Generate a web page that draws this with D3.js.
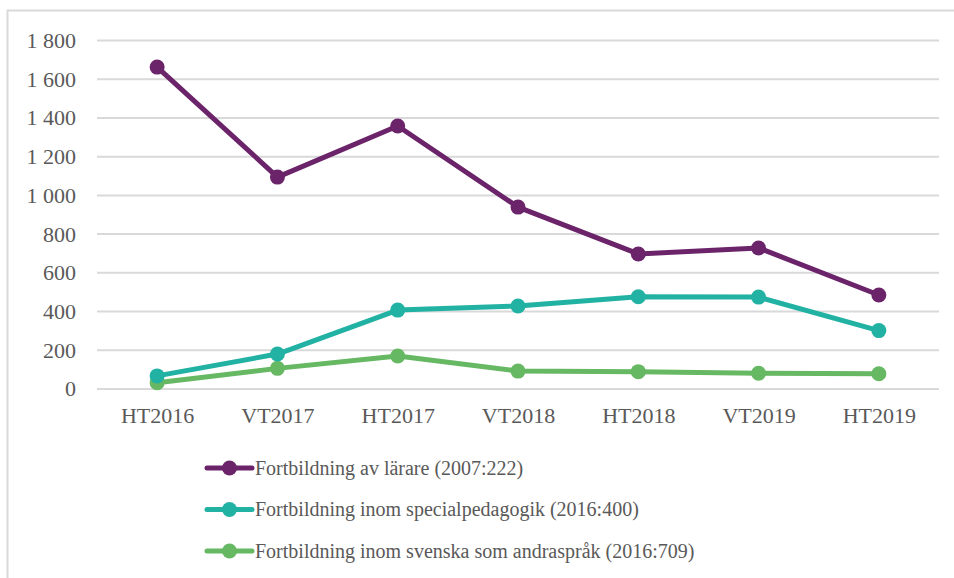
<!DOCTYPE html>
<html>
<head>
<meta charset="utf-8">
<script src="https://cdn.jsdelivr.net/npm/d3@7"></script>
<style>
  body { margin: 0; background: #fff; }
</style>
</head>
<body>
<svg id="chart" width="954" height="578" font-family="Liberation Serif"></svg>
<script>
// terms along the x axis
var terms = ["HT2016", "VT2017", "HT2017", "VT2018", "HT2018", "VT2019", "HT2019"];

// one array per programme
var lararValues = [1660, 1092, 1356, 937, 695, 726, 483];
var specialValues = [65, 178, 405, 426, 474, 472, 299];
var svenskaValues = [30, 104, 168, 90, 87, 79, 76];

var seriesNames = [
  "Fortbildning av lärare (2007:222)",
  "Fortbildning inom specialpedagogik (2016:400)",
  "Fortbildning inom svenska som andraspråk (2016:709)"
];
var seriesColors = ["#6b2369", "#22b2a3", "#66b863"];
var yTicks = [0, 200, 400, 600, 800, 1000, 1200, 1400, 1600, 1800];

var FONT = "Liberation Serif";
var TEXT_COLOR = "#595959";

var series = [lararValues, specialValues, svenskaValues].map(function(vals, i) {
  return { name: seriesNames[i], color: seriesColors[i], values: vals };
});

var svg = d3.select("#chart");

// light frame round the chart, runs off the right edge like the original
svg.append("rect")
    .attr("x", 7.5).attr("y", 10.5)
    .attr("width", 960).attr("height", 600)
    .attr("fill", "none")
    .attr("stroke", "#d9d9d9")
    .attr("stroke-width", 2);

var plot = { left: 97, right: 939, top: 40, bottom: 388.5 };

var x = d3.scalePoint()
    .domain(terms)
    .range([plot.left, plot.right])
    .padding(0.5);

var y = d3.scaleLinear()
    .domain([0, 1800])
    .range([plot.bottom, plot.top]);

var fmt = d3.formatLocale({ decimal: ",", thousands: " ", grouping: [3], currency: ["", " kr"] }).format(",d");

// gridlines + y labels
var yAxis = d3.axisLeft(y)
    .tickValues(yTicks)
    .tickSize(-(plot.right - plot.left))
    .tickPadding(21)
    .tickFormat(fmt);

var gy = svg.append("g")
    .attr("transform", "translate(" + plot.left + ",0)")
    .call(yAxis);
gy.select(".domain").remove();
gy.selectAll(".tick line").attr("stroke", "#d9d9d9").attr("stroke-width", 2);
gy.selectAll(".tick text")
    .attr("dy", "0.34em");

// category labels
var gx = svg.append("g")
    .attr("transform", "translate(0," + plot.bottom + ")")
    .call(d3.axisBottom(x).tickSize(0).tickPadding(19));
gx.select(".domain").remove();
gx.selectAll(".tick text")
    .attr("dy", "0.71em");

// axis groups come with font-family="sans-serif"; swap it
gy.attr("font-family", FONT).attr("font-size", 22);
gx.attr("font-family", FONT).attr("font-size", 22);
svg.selectAll(".tick text")
    .attr("font-family", FONT)
    .attr("font-size", 22)
    .attr("fill", TEXT_COLOR);

var line = d3.line()
    .x(function(d, i) { return x(terms[i]); })
    .y(function(d) { return y(d); });

// draw bottom series first so purple sits on top
series.slice().reverse().forEach(function(s) {
  svg.append("path")
      .datum(s.values)
      .attr("d", line)
      .attr("fill", "none")
      .attr("stroke", s.color)
      .attr("stroke-width", 5)
      .attr("stroke-linejoin", "round");

  svg.selectAll(null)
      .data(s.values)
    .enter().append("circle")
      .attr("cx", function(d, i) { return x(terms[i]); })
      .attr("cy", function(d) { return y(d); })
      .attr("r", 7.5)
      .attr("fill", s.color);
});

// legend below the plot
var legendY = d3.scalePoint()
    .domain(seriesNames)
    .range([468, 551]);

var legend = svg.append("g").selectAll("g")
    .data(series)
  .enter().append("g")
    .attr("transform", function(d) { return "translate(205," + legendY(d.name) + ")"; });

legend.append("line")
    .attr("x1", 2).attr("x2", 47)
    .attr("stroke", function(d) { return d.color; })
    .attr("stroke-width", 5)
    .attr("stroke-linecap", "round");

legend.append("circle")
    .attr("cx", 24.5)
    .attr("r", 7.5)
    .attr("fill", function(d) { return d.color; });

legend.append("text")
    .attr("x", 50)
    .attr("dy", "0.34em")
    .attr("font-family", FONT)
    .attr("font-size", 20)
    .attr("fill", TEXT_COLOR)
    .text(function(d) { return d.name; });
</script>
</body>
</html>
